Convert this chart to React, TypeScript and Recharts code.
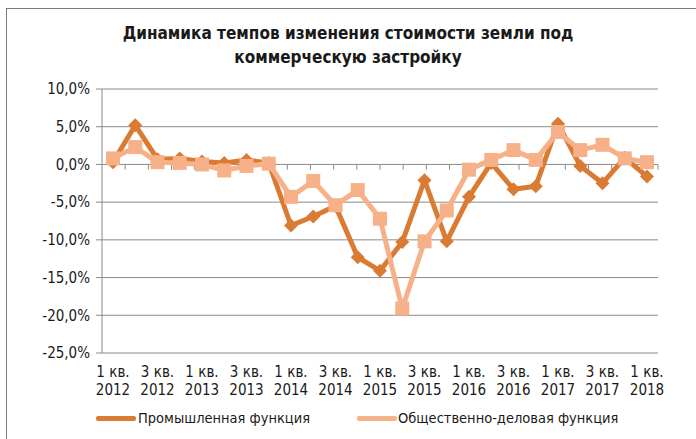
import React from 'react';
import { LineChart, Line, XAxis, YAxis, CartesianGrid, ReferenceLine } from 'recharts';

const quarters = [
  '1 кв. 2012', '2 кв. 2012', '3 кв. 2012', '4 кв. 2012',
  '1 кв. 2013', '2 кв. 2013', '3 кв. 2013', '4 кв. 2013',
  '1 кв. 2014', '2 кв. 2014', '3 кв. 2014', '4 кв. 2014',
  '1 кв. 2015', '2 кв. 2015', '3 кв. 2015', '4 кв. 2015',
  '1 кв. 2016', '2 кв. 2016', '3 кв. 2016', '4 кв. 2016',
  '1 кв. 2017', '2 кв. 2017', '3 кв. 2017', '4 кв. 2017',
  '1 кв. 2018',
];

const industrial = [0.3, 5.2, 0.7, 0.8, 0.4, 0.2, 0.6, 0.2, -8.1, -6.9, -5.5, -12.3, -14.1, -10.3, -2.1, -10.2, -4.3, 0.2, -3.3, -2.9, 5.4, -0.2, -2.5, 0.9, -1.6];
const business = [0.8, 2.3, 0.3, 0.2, 0.0, -0.8, -0.2, 0.1, -4.3, -2.2, -5.4, -3.4, -7.2, -19.1, -10.2, -6.1, -0.7, 0.6, 1.9, 0.6, 4.3, 1.9, 2.6, 0.8, 0.3];

const yTicks = [-25, -20, -15, -10, -5, 0, 5, 10];
const boundaries = Array.from({ length: 25 }, (_, i) => i + 1);

const seriesNames = ['Промышленная функция', 'Общественно-деловая функция'];
const DARK = '#DA7B33';
const LIGHT = '#F7B189';
const GRID = '#8a8a8a';
const FONT = '"DejaVu Sans Condensed", "DejaVu Sans", sans-serif';

const data = quarters.map((q, i) => ({ q, ind: industrial[i], bus: business[i] }));

const fmt = (v: number) => v.toFixed(1).replace('.', ',') + '%';

const XTick = (props: any) => {
  const { x, y, payload } = props;
  const parts = String(payload.value).split(' ');
  const l1 = parts.slice(0, 2).join(' ');
  const l2 = parts[2];
  return (
    <text x={x} y={y} textAnchor="middle" fontFamily={FONT} fontSize={15} fill="#1a1a1a">
      <tspan x={x} dy={16}>{l1}</tspan>
      <tspan x={x} dy={18}>{l2}</tspan>
    </text>
  );
};

const Diamond = (props: any) => {
  const { cx, cy } = props;
  if (cx == null || cy == null) return null;
  const r = 7;
  return <polygon points={`${cx},${cy - r} ${cx + r},${cy} ${cx},${cy + r} ${cx - r},${cy}`} fill={DARK} />;
};

const Square = (props: any) => {
  const { cx, cy } = props;
  if (cx == null || cy == null) return null;
  const s = 7;
  return <rect x={cx - s} y={cy - s} width={2 * s} height={2 * s} fill={LIGHT} />;
};

export default function App() {
  return (
    <div style={{ position: 'absolute', left: 0, top: 0, width: 696, height: 439, background: '#fff', overflow: 'hidden' }}>
      <div style={{ position: 'absolute', left: 6, top: 8, width: 720, height: 460, borderTop: '1px solid #7a7a7a', borderLeft: '1px solid #7a7a7a' }} />
      <div style={{ position: 'absolute', left: 0, top: 21, width: 696, textAlign: 'center', fontFamily: FONT, fontWeight: 'bold', fontSize: 17, lineHeight: '24px', color: '#1a1a1a' }}>
        Динамика темпов изменения стоимости  земли под<br />коммерческую застройку
      </div>
      <div style={{ position: 'absolute', left: 0, top: 0 }}>
        <LineChart width={696} height={439} data={data} margin={{ top: 89, right: 38, left: 8, bottom: 36 }}>
          <CartesianGrid vertical={false} stroke={GRID} strokeWidth={1} />
          <XAxis dataKey="q" interval={1} tickLine={false} axisLine={false} height={50} tick={<XTick />} padding={{ left: 11, right: 11 }} />
          <XAxis xAxisId="num" type="number" domain={[0, 25]} hide />
          <YAxis
            domain={[-25, 10]}
            ticks={yTicks}
            tickFormatter={fmt}
            width={94}
            axisLine={{ stroke: GRID }}
            tickLine={{ stroke: GRID }}
            tickSize={6}
            tick={{ fontFamily: FONT, fontSize: 15, fill: '#1a1a1a', dx: -4 }}
          />
          {boundaries.map((b) => (
            <ReferenceLine
              key={b}
              xAxisId="num"
              segment={[{ x: b, y: 0 }, { x: b, y: -0.7 }]}
              stroke={GRID}
              strokeWidth={1}
            />
          ))}
          <Line dataKey="ind" name={seriesNames[0]} stroke={DARK} strokeWidth={5} dot={<Diamond />} activeDot={false} isAnimationActive={false} />
          <Line dataKey="bus" name={seriesNames[1]} stroke={LIGHT} strokeWidth={5} dot={<Square />} activeDot={false} isAnimationActive={false} />
        </LineChart>
      </div>
      <div style={{ position: 'absolute', left: 96, top: 416, width: 40, height: 5, borderRadius: 2, background: DARK }} />
      <div style={{ position: 'absolute', left: 138, top: 408, fontFamily: FONT, fontSize: 14.5, lineHeight: '20px', color: '#1a1a1a' }}>{seriesNames[0]}</div>
      <div style={{ position: 'absolute', left: 357, top: 416, width: 40, height: 5, borderRadius: 2, background: LIGHT }} />
      <div style={{ position: 'absolute', left: 398, top: 408, fontFamily: FONT, fontSize: 14.5, lineHeight: '20px', color: '#1a1a1a' }}>{seriesNames[1]}</div>
    </div>
  );
}
